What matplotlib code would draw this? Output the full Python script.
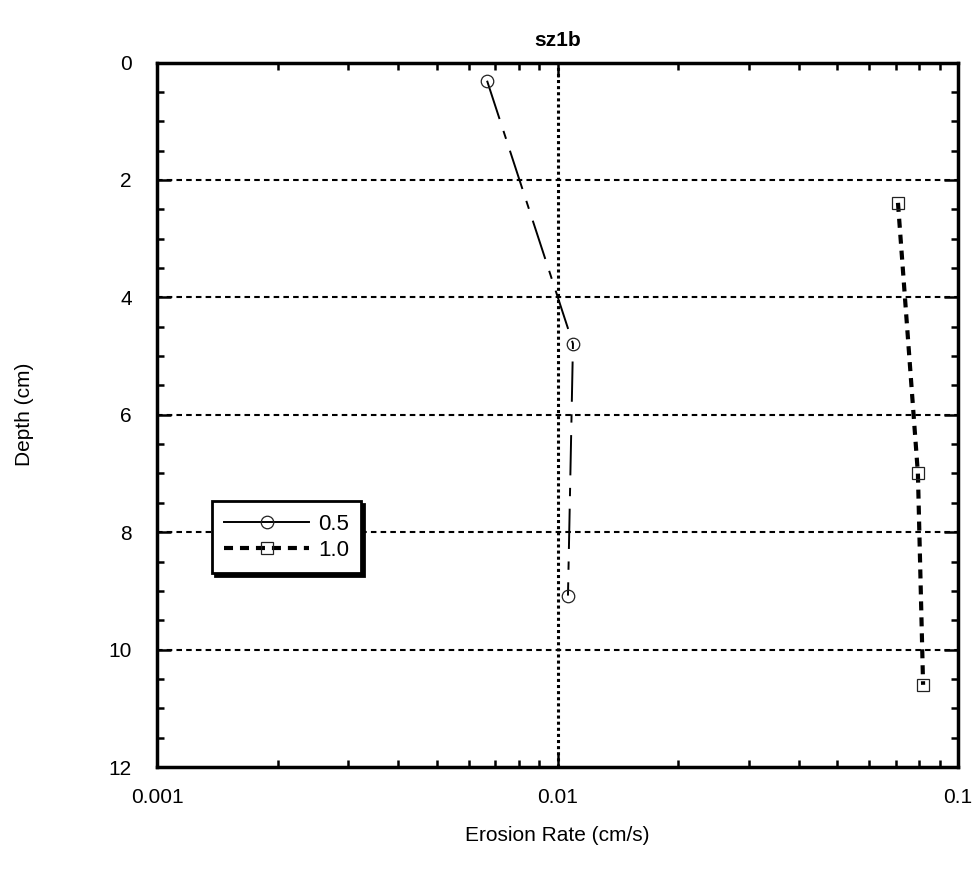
import matplotlib
matplotlib.use("Agg")
import matplotlib.pyplot as plt
from matplotlib.ticker import FixedLocator, FixedFormatter, LogLocator, NullFormatter, MultipleLocator

plt.rcParams['font.family'] = ['Liberation Sans', 'DejaVu Sans']
plt.rcParams['lines.scale_dashes'] = False

# erosion rate (cm/s) vs depth (cm), one series per shear stress
depth_05 = [0.31, 4.79, 9.08]
rate_05 = [0.00667, 0.01093, 0.01062]
depth_10 = [2.39, 7.0, 10.6]
rate_10 = [0.0708, 0.0794, 0.0818]
labels = ["0.5", "1.0"]

xticks = [0.001, 0.01, 0.1]
xtick_labels = ["0.001", "0.01", "0.1"]
yticks = [0, 2, 4, 6, 8, 10, 12]

fig = plt.figure(figsize=(9.75, 8.71), dpi=100)
ax = fig.add_axes([0.161, 0.1194, 0.8216, 0.8088])

ax.plot(rate_05, depth_05, color='black', lw=1.4, dashes=[29, 9, 6, 9],
        marker='o', ms=9, mfc='none', mec='#222222', mew=0.9, label=labels[0])
ax.plot(rate_10, depth_10, color='black', lw=3.0, dashes=[6.5, 5],
        marker='s', ms=9, mfc='none', mec='#222222', mew=0.9, label=labels[1])

ax.set_xscale('log')
ax.set_xlim(0.001, 0.1)
ax.set_ylim(12, 0)

ax.xaxis.set_major_locator(FixedLocator(xticks))
ax.xaxis.set_major_formatter(FixedFormatter(xtick_labels))
ax.xaxis.set_minor_locator(LogLocator(base=10, subs=range(2, 10)))
ax.xaxis.set_minor_formatter(NullFormatter())
ax.yaxis.set_major_locator(FixedLocator(yticks))
ax.yaxis.set_minor_locator(MultipleLocator(0.5))

ax.tick_params(which='both', direction='in', top=True, right=True, width=1.8, color='black')
ax.tick_params(which='major', length=10, labelsize=15)
ax.tick_params(which='minor', length=5)
ax.tick_params(axis='x', which='major', pad=15)
ax.tick_params(axis='y', which='major', pad=18)

for s in ax.spines.values():
    s.set_linewidth(2.5)

# grid: dashed at major depths, dotted at the 0.01 decade
for d in yticks[1:-1]:
    ax.axhline(d, color='black', lw=1.5, dashes=[4, 3], zorder=1)
ax.axvline(0.01, color='black', lw=2.2, dashes=[2.2, 2.2], zorder=1)

ax.set_title("sz1b", fontsize=15, fontweight='bold', pad=12)
ax.set_xlabel("Erosion Rate (cm/s)", fontsize=15, labelpad=14)
ax.set_ylabel("Depth (cm)", fontsize=15, labelpad=54)

leg = ax.legend(loc='upper left', bbox_to_anchor=(0.069, 0.377), borderaxespad=0,
                fontsize=16, fancybox=False, edgecolor='black', framealpha=1,
                handlelength=3.8, handletextpad=0.4, borderpad=0.55, labelspacing=0.25,
                shadow={'color': 'black', 'alpha': 1})
leg.get_frame().set_linewidth(2)
leg.get_lines()[0].set_linestyle('-')

fig.savefig("out.png", dpi=100)
